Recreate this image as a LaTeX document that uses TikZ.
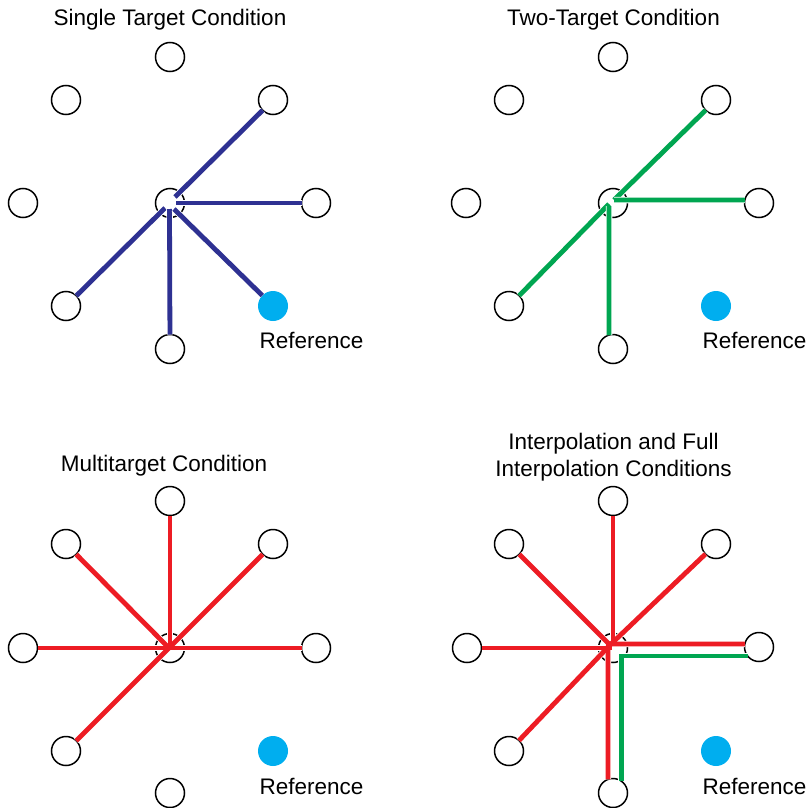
\documentclass[tikz,border=0pt]{standalone}
\usepackage{fontspec}
\setmainfont{Liberation Sans}
\definecolor{cblue}{RGB}{46,49,146}
\definecolor{cgreen}{RGB}{0,166,81}
\definecolor{cred}{RGB}{237,28,36}
\definecolor{cref}{RGB}{0,174,239}
\tikzset{
  tgt/.style={circle, draw=black, line width=1.5pt, fill=white, minimum size=29pt, inner sep=0pt, outer sep=0pt},
  refdot/.style={circle, fill=cref, draw=none, minimum size=30pt, inner sep=0pt, outer sep=0pt},
  lbl/.style={font=\fontsize{22.5}{26.5}\selectfont, anchor=base, inner sep=0pt, align=center},
  halo/.style={draw=white, line width=6.5pt},
  bl/.style={draw=cblue, line width=4.8pt, preaction={halo}},
  gl/.style={draw=cgreen, line width=4.8pt, preaction={halo}},
  rl/.style={draw=cred, line width=4.8pt},
  rh/.style={draw=white, line width=6.3pt},
}
\begin{document}
\begin{tikzpicture}[x=1pt,y=-1pt]
\useasboundingbox (0,0) rectangle (807,808);
% ---------- Panel 1 ----------
\node[lbl] (ti1) at (170,26) {Single Target Condition};
\node[tgt] (c1) at (170,203) {};
\node[tgt] (t1) at (170,57) {};
\node[tgt] (ul1) at (66,100) {};
\node[tgt] (ur1) at (273,100) {};
\node[tgt] (l1) at (23,203) {};
\node[tgt] (r1) at (316,203) {};
\node[tgt] (ll1) at (66,306) {};
\node[refdot] (ref1) at (273,306) {};
\node[tgt] (b1) at (170,349) {};
\node[lbl] (rt1) at (311.5,348) {Reference};
\coordinate (e1ur) at (175,197);
\coordinate (e1r) at (176,203);
\coordinate (e1ll) at (165,208);
\coordinate (e1b) at (169.5,209);
\coordinate (e1lr) at (174,209);
\draw[bl] (e1ur) -- (ur1);
\draw[bl] (e1r) -- (r1);
\draw[bl] (e1ll) -- (ll1);
\draw[bl] (e1b) -- (b1);
\draw[bl] (e1lr) -- (ref1);
% ---------- Panel 2 ----------
\node[lbl] (ti2) at (613.5,26) {Two-Target Condition};
\node[tgt] (c2) at (613,203) {};
\node[tgt] (t2) at (613,57) {};
\node[tgt] (ul2) at (509,100) {};
\node[tgt] (ur2) at (716,100) {};
\node[tgt] (l2) at (466,203) {};
\node[tgt] (r2) at (759,203) {};
\node[tgt] (ll2) at (509,306) {};
\node[refdot] (ref2) at (716,306) {};
\node[tgt] (b2) at (613,349) {};
\node[lbl] (rt2) at (754.5,348) {Reference};
\coordinate (e2ur) at (614,200);
\coordinate (e2r) at (614,200);
\coordinate (e2ll) at (609,204);
\coordinate (e2b) at (609,206);
\draw[gl] (e2ur) -- (ur2);
\draw[gl] (e2r) -- (r2.168);
\draw[gl] (e2ll) -- (ll2);
\draw[gl] (e2b) -- (b2.106);
% ---------- Panel 3 ----------
\node[lbl] (ti3) at (164,471) {Multitarget Condition};
\node[tgt] (c3) at (170,648) {};
\node[tgt] (t3) at (170,501) {};
\node[tgt] (ul3) at (66,544) {};
\node[tgt] (ur3) at (273,544) {};
\node[tgt] (l3) at (23,648) {};
\node[tgt] (r3) at (316,648) {};
\node[tgt] (ll3) at (66,751) {};
\node[refdot] (ref3) at (273,751) {};
\node[tgt] (b3) at (170,793) {};
\node[lbl] (rt3) at (311.5,794) {Reference};
\coordinate (j3) at (169,648);
\coordinate (j3t) at (170,648);
\foreach \n in {ul3,ur3,l3,r3,ll3} {\draw[rh] (j3) -- (\n);}
\draw[rh] (j3t) -- (t3);
\foreach \n in {ul3,ur3,l3,r3,ll3} {\draw[rl] (j3) -- (\n);}
\draw[rl] (j3t) -- (t3);
% ---------- Panel 4 ----------
\node[lbl] (ti4) at (613.5,476) {Interpolation and Full\\Interpolation Conditions};
\node[tgt] (c4) at (613,648) {};
\node[tgt] (t4) at (613,501) {};
\node[tgt] (ul4) at (509,544) {};
\node[tgt] (ur4) at (716,544) {};
\node[tgt] (l4) at (467,648) {};
\node[tgt] (r4) at (759,647) {};
\node[tgt] (ll4) at (509,751) {};
\node[refdot] (ref4) at (716,751) {};
\node[tgt] (b4) at (613,793) {};
\node[lbl] (rt4) at (754.5,794) {Reference};
\coordinate (j4) at (610,645);
\coordinate (j4t) at (613,646);
\coordinate (j4l) at (612,648);
\coordinate (j4r) at (606,644);
\coordinate (j4b) at (608,647);
\foreach \n in {ul4,ur4,ll4} {\draw[rh] (j4) -- (\n);}
\draw[rh] (j4t) -- (t4);
\draw[rh] (j4l) -- (l4);
\draw[rh] (j4r) -- (r4.168);
\draw[rh] (j4b) -- (b4.110);
\foreach \n in {ul4,ur4,ll4} {\draw[rl] (j4) -- (\n);}
\draw[rl] (j4t) -- (t4);
\draw[rl] (j4l) -- (l4);
\draw[rl] (j4r) -- (r4.168);
\draw[rl] (j4b) -- (b4.110);
\draw[gl] (b4.56.5) |- (r4.218.4);
\end{tikzpicture}
\end{document}
